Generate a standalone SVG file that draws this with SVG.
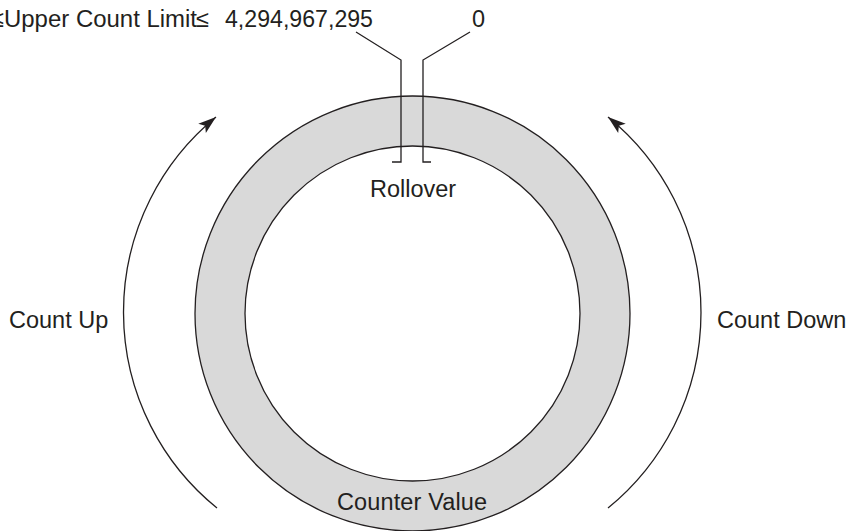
<svg xmlns="http://www.w3.org/2000/svg" width="848" height="531" viewBox="0 0 848 531">
<style>
.t{font-family:"Liberation Sans",Arial,sans-serif;font-size:23.5px;fill:#231f20}
.ln{fill:none;stroke:#231f20;stroke-width:1.3}
</style>
<defs>
<marker id="ah" markerUnits="userSpaceOnUse" markerWidth="20" markerHeight="14" viewBox="0 0 20 14" refX="18" refY="7" orient="auto">
<path d="M0,1 L18,7 L0,13 L4,7 Z" fill="#231f20"/>
</marker>
</defs>
<rect width="848" height="531" fill="#fff"/>
<g id="ring">
<path d="M412.5,96 A217.5,217.5 0 1 1 412.4,96 Z M412.5,146 A167.5,167.5 0 1 0 412.6,146 Z" fill="#d9d9d9" fill-rule="evenodd"/>
<circle cx="412.5" cy="313.5" r="217.5" class="ln"/>
<circle cx="412.5" cy="313.5" r="167.5" class="ln" fill="#fff"/>
</g>
<g id="connectors">
<path d="M217,508 A252,252 0 0 1 216,117" class="ln" marker-end="url(#ah)"/>
<path d="M608,508 A252,252 0 0 0 608,117" class="ln" marker-end="url(#ah)"/>
<path d="M356,32 L401,60 L401,162 L392,162" class="ln"/>
<path d="M470,32 L423,60 L423,162 L431,162" class="ln"/>
</g>
<g id="labels">
<text class="t" y="27"><tspan x="-9">≤</tspan><tspan x="4" textLength="193" lengthAdjust="spacingAndGlyphs">Upper Count Limit</tspan><tspan x="196">≤</tspan><tspan x="225" textLength="148" lengthAdjust="spacingAndGlyphs">4,294,967,295</tspan></text>
<text class="t" x="472" y="27">0</text>
<text class="t" x="370" y="197">Rollover</text>
<text class="t" x="9" y="328">Count Up</text>
<text class="t" x="717" y="328">Count Down</text>
<text class="t" x="337" y="510" textLength="150" lengthAdjust="spacing">Counter Value</text>
</g>
</svg>
